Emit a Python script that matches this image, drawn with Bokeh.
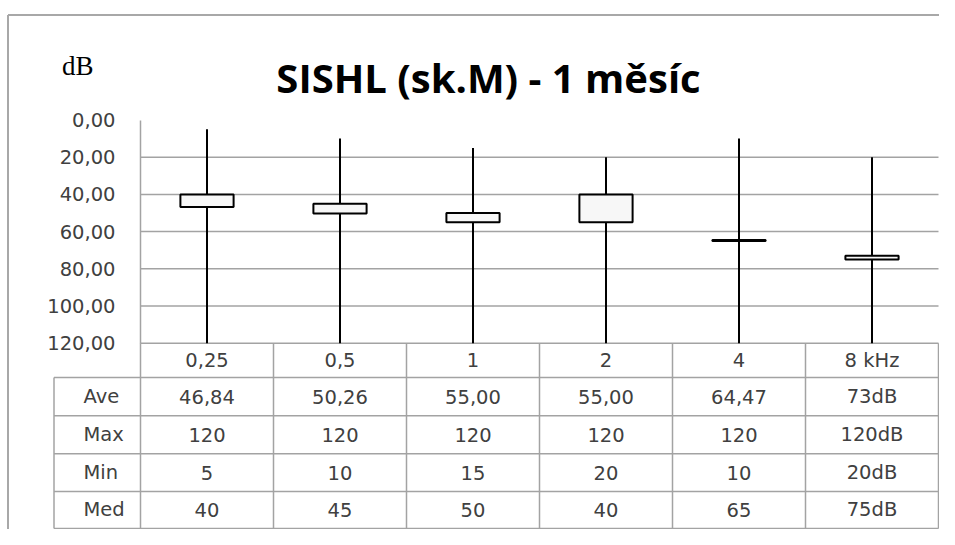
from bokeh.plotting import figure
from bokeh.models import Range1d, LinearAxis, FixedTicker, Label
from bokeh.embed import file_html
from bokeh.resources import INLINE
from bokeh.core.properties import value

# ---------------- data ----------------
categories = ["0,25", "0,5", "1", "2", "4", "8 kHz"]
ave = [46.84, 50.26, 55.00, 55.00, 64.47, 73]
vmax = [120, 120, 120, 120, 120, 120]
vmin = [5, 10, 15, 20, 10, 20]
med = [40, 45, 50, 40, 65, 75]

row_names = ["Ave", "Max", "Min", "Med"]
ave_labels = ["46,84", "50,26", "55,00", "55,00", "64,47", "73dB"]
max_labels = ["120", "120", "120", "120", "120", "120dB"]
min_labels = ["5", "10", "15", "20", "10", "20dB"]
med_labels = ["40", "45", "50", "40", "65", "75dB"]

y_ticks = [0, 20, 40, 60, 80, 100, 120]
y_tick_labels = ["0,00", "20,00", "40,00", "60,00", "80,00", "100,00", "120,00"]

title_text = "SISHL (sk.M) - 1 měsíc"
unit_text = "dB"

# ---------------- layout ----------------
W, H = 939, 529
X0_PX, XS = 140.0, 133.0     # px of first category edge, px per category
Y0_PX, YS = 119.5, 1.86      # px of value 0, px per dB

def dx(px):
    return (px - X0_PX) / XS

def dy(px):
    return (px - Y0_PX) / YS

p = figure(width=W, height=H, output_backend="svg", toolbar_location=None,
           x_axis_type=None, y_axis_type=None,
           x_range=Range1d(dx(0), dx(W)), y_range=Range1d(dy(H), dy(0)),
           min_border=0, min_border_left=0, min_border_right=0,
           min_border_top=0, min_border_bottom=0)
p.outline_line_color = None
p.background_fill_color = "white"
p.border_fill_color = "white"

LINE_GRAY = "#a3a3a3"
TEXT_GRAY = "#404040"
n = len(categories)
xs = [i + 0.5 for i in range(n)]

# outer chart border (top and left visible)
top_b = dy(14.5)
left_b = dx(7.5)
p.segment(x0=[left_b], y0=[top_b], x1=[dx(W)], y1=[top_b], line_color="#a8a8a8", line_width=2)
p.segment(x0=[left_b], y0=[top_b], x1=[left_b], y1=[dy(H)], line_color="#a8a8a8", line_width=2)

# horizontal gridlines
grid_vals = y_ticks[1:]
p.segment(x0=[0] * len(grid_vals), y0=grid_vals, x1=[n] * len(grid_vals), y1=grid_vals,
          line_color=LINE_GRAY, line_width=1.5)

# table
row_edges = [120, 138.5, 159.0, 179.4, 199.7, 219.6]
left_col = dx(53.5)
for e in row_edges[1:]:
    p.segment(x0=[left_col], y0=[e], x1=[n], y1=[e], line_color=LINE_GRAY, line_width=1.5)
p.segment(x0=list(range(0, n + 1)), y0=[row_edges[0]] * (n + 1),
          x1=list(range(0, n + 1)), y1=[row_edges[-1]] * (n + 1),
          line_color=LINE_GRAY, line_width=1.5)
p.segment(x0=[left_col], y0=[row_edges[1]], x1=[left_col], y1=[row_edges[-1]],
          line_color=LINE_GRAY, line_width=1.5)

# whiskers and boxes
p.segment(x0=xs, y0=vmin, x1=xs, y1=vmax, line_color="black", line_width=2)
box_top = [min(a, m) for a, m in zip(ave, med)]
box_bot = [max(a, m) for a, m in zip(ave, med)]
p.vbar(x=xs, width=0.4, top=box_top, bottom=box_bot,
       fill_color="#f7f7f7", line_color="black", line_width=2)

# y axis
yaxis = LinearAxis(ticker=FixedTicker(ticks=y_ticks),
                   major_label_overrides={t: l for t, l in zip(y_ticks, y_tick_labels)},
                   bounds=(0, 120), fixed_location=0)
yaxis.axis_line_color = LINE_GRAY
yaxis.axis_line_width = 1.5
yaxis.major_tick_out = 0
yaxis.major_tick_in = 0
yaxis.minor_tick_out = 0
yaxis.minor_tick_in = 0
yaxis.major_tick_line_color = None
yaxis.minor_tick_line_color = None
yaxis.major_label_standoff = 25
yaxis.major_label_text_font = "DejaVu Sans"
yaxis.major_label_text_font_size = "19.5px"
yaxis.major_label_text_color = TEXT_GRAY
p.add_layout(yaxis, "left")

# table text
font = value("DejaVu Sans")
fsize = value("19.5px")
hdr_y = (row_edges[0] + row_edges[1]) / 2
p.text(x=xs, y=[hdr_y] * n, text=categories, text_align="center", text_baseline="middle",
       text_font=font, text_font_size=fsize, text_color=TEXT_GRAY)
rows = [ave_labels, max_labels, min_labels, med_labels]
for i, (name, labels) in enumerate(zip(row_names, rows)):
    cy = (row_edges[i + 1] + row_edges[i + 2]) / 2
    p.text(x=xs, y=[cy] * n, text=labels, text_align="center", text_baseline="middle",
           text_font=font, text_font_size=fsize, text_color=TEXT_GRAY)
    p.text(x=[dx(83)], y=[cy], text=[name], text_align="left", text_baseline="middle",
           text_font=font, text_font_size=fsize, text_color=TEXT_GRAY)

# title and unit label
p.add_layout(Label(x=dx(488), y=dy(76.5), text=title_text, text_align="center",
                   text_baseline="alphabetic", text_font="Open Sans", text_font_style="bold",
                   text_font_size="40px", text_color="black"))
p.add_layout(Label(x=dx(61.5), y=dy(65), text=unit_text, text_align="left",
                   text_baseline="alphabetic", text_font="Liberation Serif",
                   text_font_size="27px", text_color="black"))

open("out.html", "w").write(file_html(p, INLINE))
